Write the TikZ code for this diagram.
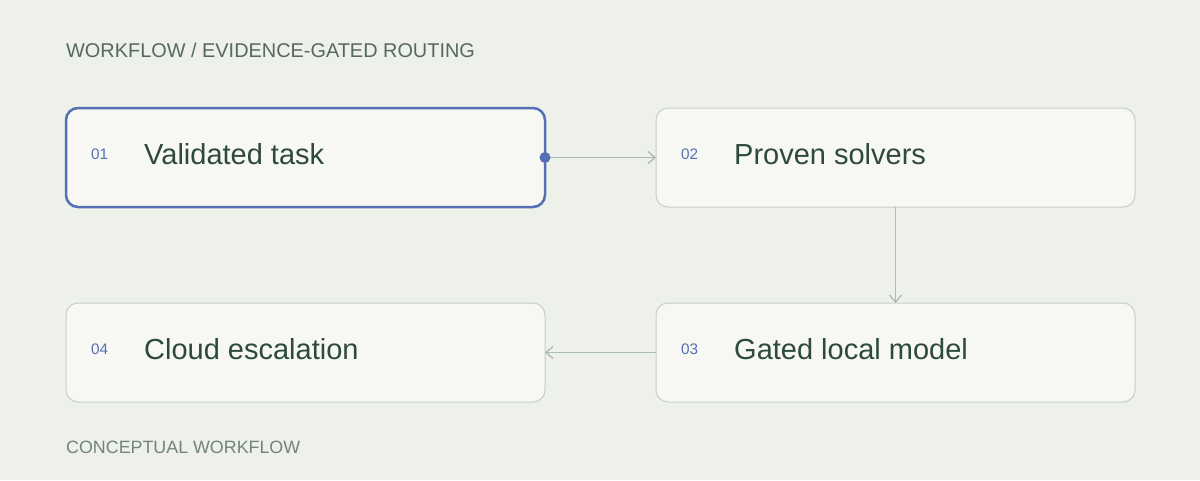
\documentclass[tikz,border=0pt]{standalone}
\usepackage{fontspec}
\setmainfont{Liberation Sans}
\usetikzlibrary{arrows.meta}
\definecolor{bgc}{HTML}{EEF0EA}
\definecolor{boxfill}{HTML}{F7F8F3}
\definecolor{boxline}{HTML}{C5CFC6}
\definecolor{accent}{HTML}{5470B4}
\definecolor{maintext}{HTML}{2E4A3D}
\definecolor{connc}{HTML}{A9BDB0}
\definecolor{titlec}{HTML}{56695D}
\definecolor{footc}{HTML}{718578}
\tikzset{
  stepbox/.style={draw=boxline, line width=1pt, fill=boxfill, rounded corners=12pt,
    minimum width=479pt, minimum height=99pt, outer sep=0pt, inner sep=0pt},
  activebox/.style={stepbox, draw=accent, line width=2.5pt},
  numlabel/.style={anchor=base west, inner sep=0pt, text=accent, font=\fontsize{15.3}{17}\selectfont},
  mainlabel/.style={anchor=base west, inner sep=0pt, text=maintext, font=\fontsize{29}{32}\selectfont},
  conn/.style={draw=connc, line width=1.5pt, -{Straight Barb[length=7pt,width=12pt,line width=1.3pt]}},
}
\begin{document}
\begin{tikzpicture}[x=1pt,y=-1pt]
\useasboundingbox (0,0) rectangle (1200,480);
\fill[bgc] (0,0) rectangle (1200,480);
\node[anchor=base west, inner sep=0pt, text=titlec, font=\fontsize{19.9}{22}\selectfont] (title) at (66,57.5) {WORKFLOW / EVIDENCE-GATED ROUTING};
\node[anchor=base west, inner sep=0pt, text=footc, font=\fontsize{17.85}{20}\selectfont] (foot) at (66,453) {CONCEPTUAL WORKFLOW};

\node[activebox] (b1) at (305.5,157.5) {};
\node[stepbox] (b2) at (895.5,157.5) {};
\node[stepbox] (b3) at (895.5,352.5) {};
\node[stepbox] (b4) at (305.5,352.5) {};

\node[numlabel] (n1) at (91,159.5) {01};
\node[mainlabel] (t1) at (144,164.5) {Validated task};
\node[numlabel] (n2) at (681,159.5) {02};
\node[mainlabel] (t2) at (734,164.5) {Proven solvers};
\node[numlabel] (n3) at (681,354.5) {03};
\node[mainlabel] (t3) at (734,359.5) {Gated local model};
\node[numlabel] (n4) at (91,354.5) {04};
\node[mainlabel] (t4) at (144,359.5) {Cloud escalation};

\draw[conn] (b1.east) -- (b2.west);
\fill[accent] (b1.east) circle (5.5pt);
\draw[conn] (b2.south) -- (b3.north);
\draw[conn] (b3.west) -- (b4.east);
\end{tikzpicture}
\end{document}
